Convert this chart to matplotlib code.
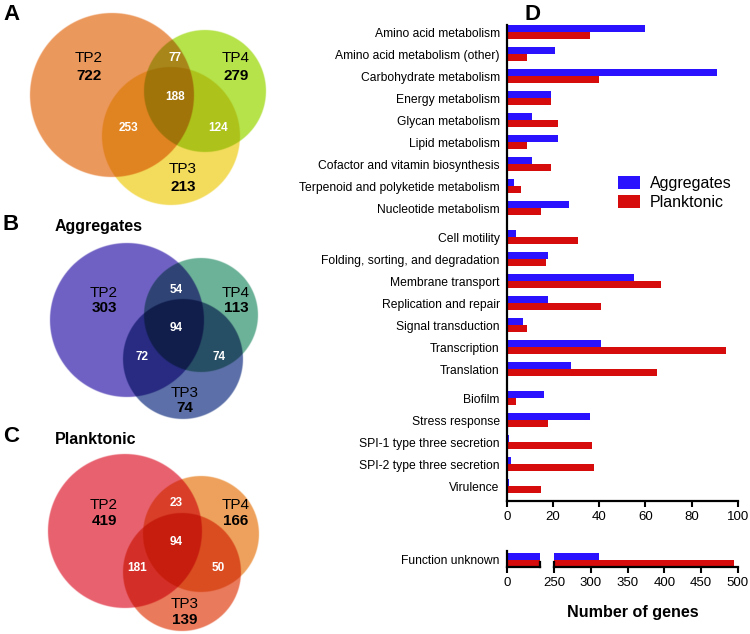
import numpy as np
import matplotlib
matplotlib.use("Agg")
import matplotlib.pyplot as plt

plt.rcParams['font.family'] = ['Liberation Sans', 'DejaVu Sans']

# bar chart data (panel D)
categories = ['Amino acid metabolism', 'Amino acid metabolism (other)', 'Carbohydrate metabolism',
              'Energy metabolism', 'Glycan metabolism', 'Lipid metabolism',
              'Cofactor and vitamin biosynthesis', 'Terpenoid and polyketide metabolism',
              'Nucleotide metabolism', 'Cell motility', 'Folding, sorting, and degradation',
              'Membrane transport', 'Replication and repair', 'Signal transduction',
              'Transcription', 'Translation', 'Biofilm', 'Stress response',
              'SPI-1 type three secretion', 'SPI-2 type three secretion', 'Virulence']
group_sizes = [9, 7, 5]
aggregates = [60, 21, 91, 19, 11, 22, 11, 3, 27, 4, 18, 55, 18, 7, 41, 28, 16, 36, 1, 2, 1]
planktonic = [36, 9, 40, 19, 22, 9, 19, 6, 15, 31, 17, 67, 41, 9, 95, 65, 4, 18, 37, 38, 15]
unknown_label = 'Function unknown'
unknown_agg = 311
unknown_plank = 495

# venn counts: TP2 only, TP4 only, TP3 only, TP2&TP4, TP2&TP3, TP3&TP4, all
venn_a = [722, 279, 213, 77, 253, 124, 188]
venn_b = [303, 113, 74, 54, 72, 74, 94]
venn_c = [419, 166, 139, 23, 181, 50, 94]

blue = '#2a12ff'
red = '#d60c0c'

W, H = 750, 634
fig = plt.figure(figsize=(W / 100, H / 100), dpi=100)

# ---- Venn diagrams, drawn as a multiply-blended raster in pixel coordinates
bg = fig.add_axes([0, 0, 1, 1])
bg.set_xlim(0, W)
bg.set_ylim(H, 0)
bg.axis('off')

panels = [
    # circles: (cx, cy, r, colour) for TP2, TP4, TP3
    dict(counts=venn_a, title=None, letter='A', ly=15, sp=18,
         circles=[(112, 95, 82, '#ec985c'), (205, 91, 61, '#b6e24a'), (171, 136, 69, '#f3dc5c')],
         pos=[(89, 58), (236, 58), (183, 169), (175, 58), (128, 128), (218, 128), (175, 97)]),
    dict(counts=venn_b, title='Aggregates', letter='B', ly=225, sp=15,
         circles=[(127, 320, 77, '#7062c4'), (201, 315, 57, '#6cb298'), (183, 359, 60, '#5c70a8')],
         pos=[(104, 293), (236, 293), (185, 393), (176, 290), (142, 357), (219, 357), (176, 328)]),
    dict(counts=venn_c, title='Planktonic', letter='C', ly=437, sp=16,
         circles=[(125, 531, 77, '#e86270'), (201, 534, 58, '#eea25c'), (182, 572, 59, '#ea7a5c')],
         pos=[(104, 505), (236, 505), (185, 604), (176, 503), (137, 568), (218, 568), (176, 542)]),
]

ss = 2
vw = 300
xs = (np.arange(vw * ss) + 0.5) / ss
ys = (np.arange(H * ss) + 0.5) / ss
gx, gy = np.meshgrid(xs, ys)
img = np.ones((H * ss, vw * ss, 3))
for p in panels:
    for cx, cy, r, col in p['circles']:
        d = np.hypot(gx - cx, gy - cy)
        cov = np.clip((r - d) * ss + 0.5, 0, 1)[..., None]
        c = np.array(matplotlib.colors.to_rgb(col))
        img *= 1 - cov * (1 - c)
bg.imshow(img, extent=(0, vw, H, 0), interpolation='bilinear', zorder=0)

names = ['TP2', 'TP4', 'TP3']
for p in panels:
    cnt, pos = p['counts'], p['pos']
    for i in range(3):
        x, y = pos[i]
        bg.text(x, y, names[i], ha='center', va='center', fontsize=11)
        bg.text(x, y + p['sp'], str(cnt[i]), ha='center', va='center', fontsize=11, fontweight='bold')
    for i in range(3, 7):
        x, y = pos[i]
        bg.text(x, y, str(cnt[i]), ha='center', va='center', fontsize=8.5,
                fontweight='bold', color='white')
    bg.text(3, p['ly'], p['letter'], ha='left', va='center', fontsize=16, fontweight='bold')
    if p['title']:
        bg.text(55, p['ly'] + 2, p['title'], ha='left', va='center', fontsize=11.5, fontweight='bold')

bg.text(525, 15, 'D', ha='left', va='center', fontsize=16, fontweight='bold')

# ---- Panel D bar chart
gap = 0.32
ypos = []
k = 0
for g, n in enumerate(group_sizes):
    for j in range(n):
        ypos.append(k + g * gap)
        k += 1
ypos = np.array(ypos)
h = 0.3

ax = fig.add_axes([506.7 / W, 1 - 501 / H, 231 / W, 476 / H])
ax.barh(ypos - h / 2, aggregates, height=h, color=blue, label='Aggregates')
ax.barh(ypos + h / 2, planktonic, height=h, color=red, label='Planktonic')
ax.set_xlim(0, 100)
ax.set_ylim(ypos[-1] + 0.68, -0.32)
ax.set_yticks(ypos)
ax.set_yticklabels(categories, fontsize=8.7)
ax.set_xticks([0, 20, 40, 60, 80, 100])
ax.tick_params(axis='y', length=0, pad=5)
ax.tick_params(axis='x', length=4, width=1.5, pad=3, labelsize=9.5)
for s in ['top', 'right']:
    ax.spines[s].set_visible(False)
for s in ['left', 'bottom']:
    ax.spines[s].set_linewidth(1.6)

ax.legend(loc='upper left', bbox_to_anchor=(610 / W, 1 - 168 / H), bbox_transform=fig.transFigure,
          frameon=False, fontsize=11.5, handlelength=1.4, handleheight=0.9,
          handletextpad=0.6, labelspacing=0.25, borderpad=0)

# broken axis for "Function unknown"
ax1 = fig.add_axes([506.7 / W, 1 - 567 / H, 33.3 / W, 16 / H])
ax2 = fig.add_axes([554.3 / W, 1 - 567 / H, 183.4 / W, 16 / H])
for a, lim in [(ax1, (0, 45.4)), (ax2, (250, 500))]:
    a.barh([-0.2], [unknown_agg], height=0.4, color=blue)
    a.barh([0.2], [unknown_plank], height=0.4, color=red)
    a.set_xlim(*lim)
    a.set_ylim(0.45, -0.55)
    a.spines['top'].set_visible(False)
    a.tick_params(axis='x', length=4, width=1.5, pad=3, labelsize=9.5)
    a.tick_params(axis='y', length=0, pad=5)
    for s in ['left', 'bottom', 'right']:
        a.spines[s].set_linewidth(1.6)
ax1.set_xticks([0])
ax1.set_yticks([0])
ax1.set_yticklabels([unknown_label], fontsize=8.7)
ax1.spines['right'].set_bounds(0.15, 0.45)
ax2.set_xticks([250, 300, 350, 400, 450, 500])
ax2.set_yticks([])
ax2.spines['left'].set_bounds(0.15, 0.45)
ax2.spines['right'].set_visible(False)

fig.text(632.5 / W, 1 - 613 / H, 'Number of genes', ha='center', va='center',
         fontsize=11.6, fontweight='bold')

fig.savefig('out.png', dpi=100)
